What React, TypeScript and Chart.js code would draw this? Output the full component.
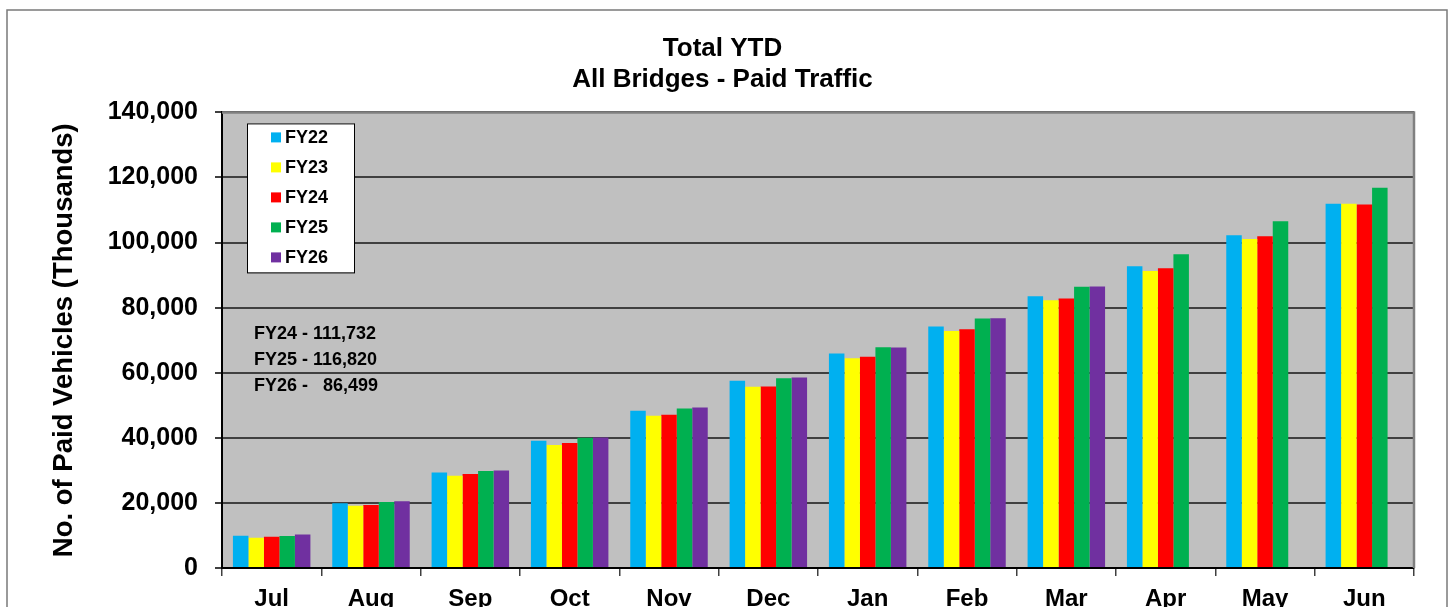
import React, { useEffect, useRef } from "react";
import { Chart, registerables } from "chart.js";

Chart.register(...registerables);

const months = ["Jul", "Aug", "Sep", "Oct", "Nov", "Dec", "Jan", "Feb", "Mar", "Apr", "May", "Jun"];
const seriesNames = ["FY22", "FY23", "FY24", "FY25", "FY26"];
const seriesColors = ["#00B0F0", "#FFFF00", "#FF0000", "#00B050", "#7030A0"];

const fy22 = [9900, 19860, 29370, 39090, 48300, 57510, 65910, 74200, 83510, 92720, 102240, 111900];
const fy23 = [9300, 19130, 28340, 37760, 46760, 55660, 64470, 72860, 82280, 91280, 101110, 111900];
const fy24 = [9600, 19340, 28860, 38380, 47070, 55760, 64880, 73380, 82790, 92110, 101930, 111732];
const fy25 = [9800, 20260, 29780, 40010, 49030, 58330, 67850, 76660, 86400, 96400, 106540, 116820];
const fy26 = [10300, 20480, 29990, 40110, 49340, 58540, 67750, 76750, 86499, null, null, null];

const titleLines = ["Total YTD", "All Bridges - Paid Traffic"];
const yAxisTitle = "No. of Paid Vehicles (Thousands)";
const yMin = 0;
const yMax = 140000;
const yStep = 20000;
const notes = ["FY24 - 111,732", "FY25 - 116,820", "FY26 -   86,499"];

const FONT = "'Liberation Sans', Arial, Helvetica, sans-serif";

const decorPlugin = {
  id: "decor",
  beforeDraw(chart: any) {
    const { ctx, chartArea: a } = chart;
    ctx.save();
    ctx.fillStyle = "#ffffff";
    ctx.fillRect(0, 0, chart.width, chart.height);
    ctx.strokeStyle = "#7a7a7a";
    ctx.lineWidth = 1.5;
    ctx.strokeRect(7, 10, 1440, 640);
    ctx.fillStyle = "#C0C0C0";
    ctx.fillRect(a.left, a.top, a.right - a.left, a.bottom - a.top);
    ctx.restore();
  },
  afterDraw(chart: any) {
    const { ctx, chartArea: a } = chart;
    ctx.save();
    // plot area top/right border
    ctx.strokeStyle = "#808080";
    ctx.lineWidth = 2.5;
    ctx.beginPath();
    ctx.moveTo(a.left, a.top);
    ctx.lineTo(a.right, a.top);
    ctx.lineTo(a.right, a.bottom);
    ctx.stroke();

    // legend box
    const lx = a.left + 25;
    const ly = a.top + 11;
    const lw = 107;
    const lh = 149;
    ctx.fillStyle = "#ffffff";
    ctx.fillRect(lx, ly, lw, lh);
    ctx.strokeStyle = "#000000";
    ctx.lineWidth = 1;
    ctx.strokeRect(lx + 0.5, ly + 0.5, lw, lh);
    ctx.font = `bold 18px ${FONT}`;
    ctx.textBaseline = "middle";
    ctx.textAlign = "left";
    chart.data.datasets.forEach((ds: any, i: number) => {
      const cy = ly + 14 + i * 30;
      ctx.fillStyle = ds.backgroundColor;
      ctx.fillRect(lx + 24, cy - 5, 10, 10);
      ctx.fillStyle = "#000000";
      ctx.fillText(ds.label, lx + 38, cy + 1);
    });

    // notes
    ctx.font = `bold 18px ${FONT}`;
    ctx.fillStyle = "#000000";
    notes.forEach((t, i) => {
      ctx.fillText(t, a.left + 32, 334 + i * 26);
    });
    ctx.restore();
  },
};

export default function App() {
  const ref = useRef<HTMLCanvasElement | null>(null);

  useEffect(() => {
    if (!ref.current) return;
    Chart.defaults.font.family = FONT;
    const seriesData = [fy22, fy23, fy24, fy25, fy26];
    const chart = new Chart(ref.current, {
      type: "bar",
      data: {
        labels: months,
        datasets: seriesNames.map((name, i) => ({
          label: name,
          data: seriesData[i],
          backgroundColor: seriesColors[i],
          borderWidth: 0,
          categoryPercentage: 0.78,
          barPercentage: 1,
        })),
      },
      options: {
        responsive: false,
        animation: false,
        layout: { padding: { left: 0, right: 8, top: 0, bottom: 0 } },
        plugins: {
          legend: { display: false },
          tooltip: { enabled: false },
          title: {
            display: true,
            text: titleLines,
            color: "#000000",
            font: { size: 26, weight: "bold", lineHeight: 1.2 },
            padding: { top: 33, bottom: 17 },
          },
        },
        scales: {
          x: {
            grid: {
              display: true,
              drawOnChartArea: false,
              offset: true,
              tickLength: 8,
              color: "#404040",
              lineWidth: 1.5,
            },
            border: { color: "#000000", width: 2 },
            ticks: {
              color: "#000000",
              font: { size: 24, weight: "bold" },
              padding: 9,
              maxRotation: 0,
              autoSkip: false,
            },
            afterFit: (s: any) => {
              s.height = 39;
            },
          },
          y: {
            min: yMin,
            max: yMax,
            ticks: {
              stepSize: yStep,
              color: "#000000",
              font: { size: 25, weight: "bold" },
              padding: 17,
              callback: (v: any) => Number(v).toLocaleString("en-US"),
            },
            grid: { color: "#404040", lineWidth: 2, tickLength: 7 },
            border: { color: "#000000", width: 2 },
            title: {
              display: true,
              text: yAxisTitle,
              color: "#000000",
              font: { size: 27.5, weight: "bold" },
              padding: { top: 48, bottom: 0 },
            },
            afterFit: (s: any) => {
              s.width = 222;
            },
          },
          yRight: {
            position: "right",
            min: yMin,
            max: yMax,
            grid: { display: false, drawOnChartArea: false, drawTicks: false },
            border: { display: false },
            ticks: { display: false },
            afterFit: (s: any) => {
              s.width = 31;
            },
          },
        },
      },
      plugins: [decorPlugin],
    } as any);
    return () => chart.destroy();
  }, []);

  return (
    <div style={{ position: "absolute", left: 0, top: 0, width: 1453, height: 607, overflow: "hidden" }}>
      <canvas ref={ref} width={1453} height={607} style={{ display: "block" }} />
    </div>
  );
}
